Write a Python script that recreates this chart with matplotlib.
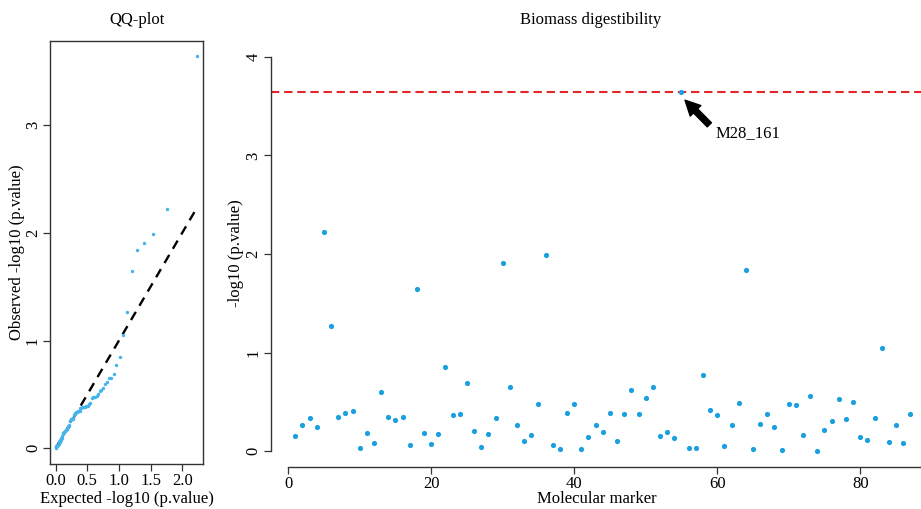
# plot.py
# QQ-plot and Manhattan-style plot of marker association (biomass digestibility)

import matplotlib
matplotlib.use("Agg")
import matplotlib.pyplot as plt
import numpy as np

# -log10(p.value) for each molecular marker
markers = np.arange(1, 88)
log_p = [
    0.15, 0.27, 0.34, 0.25, 2.22, 1.27, 0.35, 0.39, 0.41, 0.03,
    0.18, 0.08, 0.60, 0.35, 0.32, 0.35, 0.06, 1.65, 0.18, 0.07,
    0.17, 0.85, 0.37, 0.38, 0.69, 0.21, 0.04, 0.17, 0.34, 1.91,
    0.65, 0.27, 0.10, 0.16, 0.48, 1.99, 0.06, 0.02, 0.39, 0.48,
    0.02, 0.14, 0.27, 0.20, 0.39, 0.10, 0.38, 0.62, 0.38, 0.54,
    0.65, 0.15, 0.20, 0.13, 3.64, 0.03, 0.03, 0.77, 0.42, 0.37,
    0.05, 0.27, 0.49, 1.84, 0.02, 0.28, 0.38, 0.25, 0.01, 0.48,
    0.47, 0.16, 0.56, 0.00, 0.22, 0.31, 0.53, 0.33, 0.50, 0.14,
    0.11, 0.34, 1.05, 0.09, 0.27, 0.08, 0.38,
]
top_label = "M28_161"
threshold = 3.64

blue = "#1a9fe0"
axis_col = "#333333"

plt.rcParams["font.family"] = ["Liberation Serif", "DejaVu Serif"]
plt.rcParams["font.size"] = 12

W, H = 921, 509
fig = plt.figure(figsize=(W / 100, H / 100), dpi=100)


def fx(px):
    return px / W


def fy(py):
    return 1 - py / H


# ---- QQ plot ----
obs = np.sort(np.array(log_p))[::-1]
n = len(obs)
expected = -np.log10((np.arange(1, n + 1) - 0.5) / n)

ax1 = fig.add_axes([fx(50), fy(464), fx(153), fy(40.7) - fy(464)])
ax1.scatter(expected, obs, s=6, color="#45b4ea", linewidths=0, zorder=3)
ax1.plot([0, expected.max()], [0, expected.max()], color="black",
         lw=1.7, linestyle=(0, (4, 3)), zorder=2)
ax1.set_xlim(-0.09, 2.33)
ax1.set_ylim(-0.146, 3.786)
ax1.set_xticks([0, 0.5, 1.0, 1.5, 2.0])
ax1.set_xticklabels(["0.0", "0.5", "1.0", "1.5", "2.0"])
ax1.set_yticks([0, 1, 2, 3])
for lab in ax1.get_yticklabels():
    lab.set_rotation(90)
    lab.set_va("center")
for sp in ax1.spines.values():
    sp.set_color(axis_col)
    sp.set_linewidth(1.0)
ax1.tick_params(direction="out", length=5, width=0.9, color=axis_col, pad=1.5)

fig.text(fx(137), fy(20), "QQ-plot", ha="center", va="center")
fig.text(fx(127), fy(499), "Expected -log10 (p.value)", ha="center", va="center")
fig.text(fx(17), fy(252), "Observed -log10 (p.value)", ha="center", va="center",
         rotation=90)

# ---- Manhattan-style plot ----
ax2 = fig.add_axes([fx(270.7), fy(467), 1 - fx(270.7), fy(41) - fy(467)])
ax2.scatter(markers, log_p, s=14, color=blue, linewidths=0, zorder=3)
ax2.axhline(threshold, color="#e3262b", lw=1.5, linestyle=(0, (4, 2.3)), zorder=2)
ax2.set_xlim(-2.44, 88.5)
ax2.set_ylim(-0.16, 4.16)
ax2.set_xticks([0, 20, 40, 60, 80])
ax2.set_yticks([0, 1, 2, 3, 4])
for lab in ax2.get_yticklabels():
    lab.set_rotation(90)
    lab.set_va("center")
ax2.spines["top"].set_visible(False)
ax2.spines["right"].set_visible(False)
ax2.spines["left"].set_bounds(0, 4)
ax2.spines["bottom"].set_bounds(0, 88.5)
for side in ("left", "bottom"):
    ax2.spines[side].set_color(axis_col)
    ax2.spines[side].set_linewidth(1.0)
ax2.tick_params(direction="out", length=5, width=0.9, color=axis_col, pad=1.5)

top_i = int(np.argmax(log_p))
ax2.annotate("", xy=(markers[top_i] + 0.5, log_p[top_i] - 0.08),
             xytext=(markers[top_i] + 3.9, log_p[top_i] - 0.33),
             arrowprops=dict(arrowstyle="simple,head_length=0.9,head_width=0.9,tail_width=0.35",
                             color="black", mutation_scale=12, shrinkA=0, shrinkB=0))
ax2.text(markers[top_i] + 4.7, log_p[top_i] - 0.41, top_label, ha="left", va="center")

fig.text(fx(591), fy(20), "Biomass digestibility", ha="center", va="center")
fig.text(fx(597), fy(499), "Molecular marker", ha="center", va="center")
fig.text(fx(236), fy(253), "-log10 (p.value)", ha="center", va="center", rotation=90)

fig.savefig("out.png", dpi=100)
